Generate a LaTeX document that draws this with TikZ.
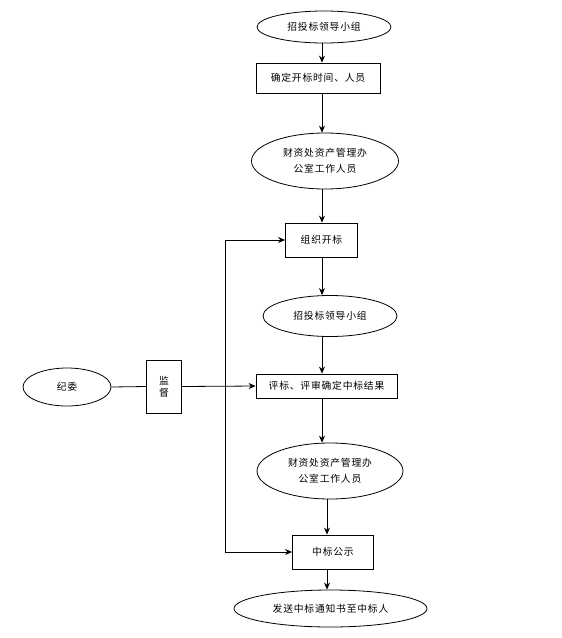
\documentclass[tikz,border=0pt]{standalone}
\usepackage{fontspec}
\newfontfamily\cjk{Noto Sans CJK SC}[LetterSpace=8]
\usetikzlibrary{shapes.geometric,arrows.meta}
\begin{document}
\begin{tikzpicture}[x=1pt,y=-1pt,
  base/.style={draw=black,line width=0.8pt,inner sep=0pt,align=center,
    font=\cjk\fontsize{9.8}{16}\selectfont},
  oval/.style={base,ellipse},
  box/.style={base,rectangle},
  arr/.style={line width=0.8pt,-{Stealth[length=7pt,width=6pt]}},
  ln/.style={line width=0.8pt}]
\useasboundingbox (0,0) rectangle (562,638);
\node[oval,minimum width=134pt,minimum height=32pt] (n1) at (324,27) {招投标领导小组};
\node[box,minimum width=124pt,minimum height=30pt] (n2) at (318,78) {确定开标时间、人员};
\node[oval,minimum width=147pt,minimum height=56pt] (n3) at (325,161) {财资处资产管理办\\公室工作人员};
\node[box,minimum width=72pt,minimum height=34pt] (n4) at (321.5,240) {组织开标};
\node[oval,minimum width=134pt,minimum height=41pt] (n5) at (330,316) {招投标领导小组};
\node[box,minimum width=141pt,minimum height=24pt] (n6) at (326.5,386) {评标、评审确定中标结果};
\node[oval,minimum width=146pt,minimum height=56pt] (n7) at (330,471) {财资处资产管理办\\公室工作人员};
\node[box,minimum width=81pt,minimum height=34pt] (n8) at (333,552) {中标公示};
\node[oval,minimum width=193pt,minimum height=37pt] (n9) at (330.5,608.5) {发送中标通知书至中标人};
\node[oval,minimum width=88pt,minimum height=38pt] (n10) at (67,387) {纪委};
\node[box,minimum width=35pt,minimum height=53pt,font=\cjk\fontsize{9.8}{12}\selectfont] (n11) at (164,386.5) {监\\督};
\coordinate (ax) at (322,0);
\coordinate (bx) at (327,0);
\draw[arr] (n1.south -| ax) -- (n2.north -| ax);
\draw[arr] (n2.south -| ax) -- (n3.north -| ax);
\draw[arr] (n3.south -| ax) -- (n4.north -| ax);
\draw[arr] (n4.south -| ax) -- (n5.north -| ax);
\draw[arr] (n5.south -| ax) -- (n6.north -| ax);
\draw[arr] (n6.south -| ax) -- (n7.north -| ax);
\draw[arr] (n7.south -| bx) -- (n8.north -| bx);
\draw[arr] (n8.south -| bx) -- (n9.north -| bx);
\draw[ln] (n10.east) -- (n11.west);
\draw[arr] (n11.east) -- (n6.west);
\coordinate (lt) at (225,240);
\coordinate (lb) at (225,552);
\draw[ln] (lt) -- (lb);
\draw[arr] (lt) -- (n4.west);
\draw[arr] (lb) -- (n8.west);
\end{tikzpicture}
\end{document}
